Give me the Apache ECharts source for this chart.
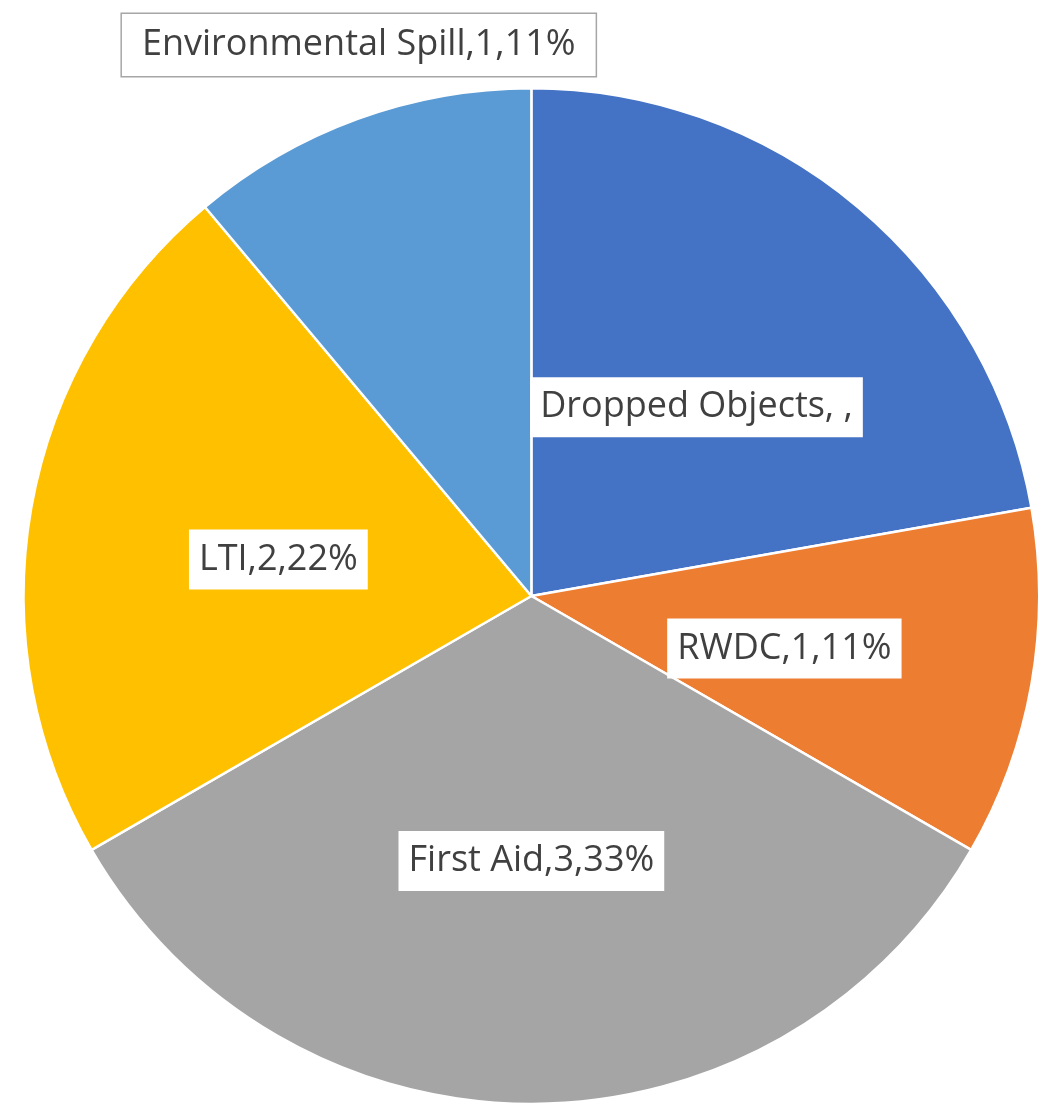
<!DOCTYPE html>
<html>
<head>
<meta charset="utf-8">
<style>
  html, body { margin: 0; padding: 0; background: #ffffff; }
  #chart { width: 1046px; height: 1114px; }
</style>
<script src="https://cdn.jsdelivr.net/npm/echarts@6/dist/echarts.min.js"></script>
</head>
<body>
<div id="chart"></div>
<script>
const categories = ['Dropped Objects', 'RWDC', 'First Aid', 'LTI', 'Environmental Spill'];
const values = [2, 1, 3, 2, 1];
const showValueInLabel = [false, true, true, true, true];
const colors = ['#4472C4', '#ED7D31', '#A5A5A5', '#FFC000', '#5B9BD5'];

const total = values.reduce((a, b) => a + b, 0);

const chart = echarts.init(document.getElementById('chart'));

const labelFont = {
  fontFamily: 'Open Sans',
  fontSize: 36,
  color: '#404040',
  lineHeight: 42,
  backgroundColor: '#ffffff',
  padding: [9, 10, 9, 10]
};

const option = {
  backgroundColor: '#ffffff',
  animation: false,
  series: [{
    type: 'pie',
    center: ['50.8%', '53.5%'],
    radius: '97.1%',
    startAngle: 90,
    clockwise: true,
    avoidLabelOverlap: false,
    itemStyle: { borderColor: '#ffffff', borderWidth: 2.5 },
    label: Object.assign({
      show: true,
      position: 'inside',
      formatter: function (p) {
        const i = p.dataIndex;
        if (!showValueInLabel[i]) return p.name + ', ,';
        return p.name + ',' + p.value + ',' + Math.round(p.value / total * 100) + '%';
      }
    }, labelFont),
    labelLine: { show: false },
    labelLayout: function (params) {
      if (params.dataIndex === 4) {
        return {
          x: chart.getWidth() * 0.343,
          y: chart.getHeight() * 0.0405,
          align: 'center',
          verticalAlign: 'middle'
        };
      }
      return { dy: 8 };
    },
    emphasis: { disabled: true },
    data: categories.map((c, i) => {
      const d = { name: c, value: values[i], itemStyle: { color: colors[i] } };
      if (i === 4) {
        d.label = { borderColor: '#a6a6a6', borderWidth: 1.5, padding: [10, 20, 10, 20] };
      }
      return d;
    })
  }]
};

chart.setOption(option);
</script>
</body>
</html>
